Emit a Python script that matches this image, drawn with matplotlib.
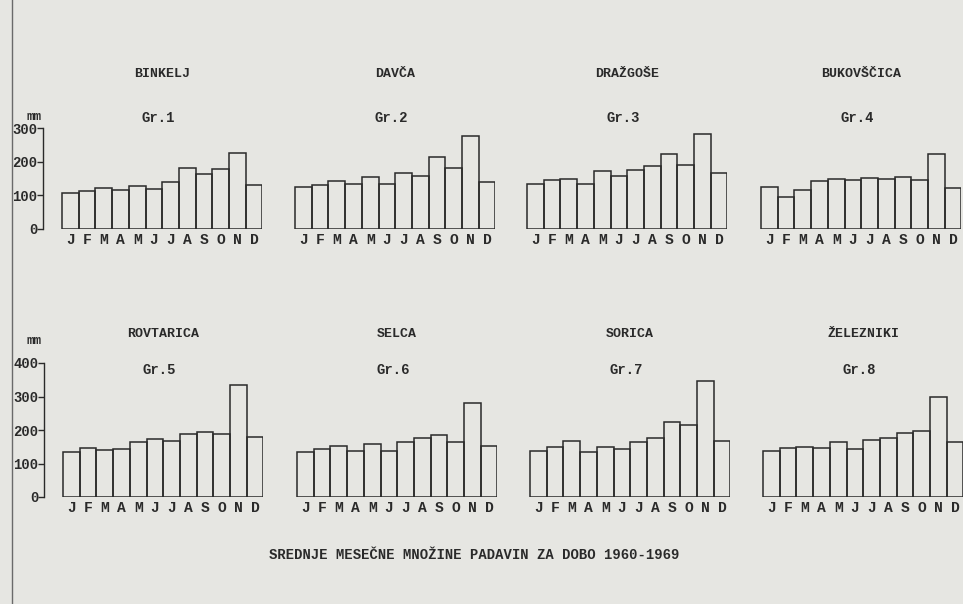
import matplotlib.pyplot as plt
from matplotlib.lines import Line2D

W, H = 963, 604

months = list("JFMAMJJASOND")

stations = ["BINKELJ", "DAVČA", "DRAŽGOŠE", "BUKOVŠČICA",
            "ROVTARICA", "SELCA", "SORICA", "ŽELEZNIKI"]
graphs = ["Gr.1", "Gr.2", "Gr.3", "Gr.4", "Gr.5", "Gr.6", "Gr.7", "Gr.8"]

# mean monthly precipitation, mm
binkelj = [106, 114, 122, 116, 129, 118, 139, 181, 162, 179, 225, 130]
davca = [124, 131, 143, 133, 153, 135, 167, 158, 215, 182, 277, 141]
drazgose = [133, 145, 150, 134, 173, 158, 174, 186, 222, 190, 282, 167]
bukovscica = [125, 95, 116, 143, 150, 145, 152, 148, 153, 145, 224, 123]
rovtarica = [135, 145, 139, 143, 163, 172, 167, 187, 193, 187, 335, 178]
selca = [133, 144, 152, 137, 157, 138, 165, 175, 185, 165, 280, 152]
sorica = [138, 148, 168, 135, 150, 143, 165, 177, 225, 215, 345, 168]
zelezniki = [137, 146, 150, 145, 163, 142, 169, 175, 190, 197, 300, 165]

series = [binkelj, davca, drazgose, bukovscica,
          rovtarica, selca, sorica, zelezniki]

caption = "SREDNJE MESEČNE MNOŽINE PADAVIN ZA DOBO 1960-1969"

bg = "#e6e6e2"
ink = "#2a2a2a"
mono = ["Liberation Mono", "DejaVu Sans Mono"]

fig = plt.figure(figsize=(W / 100, H / 100), dpi=100)
fig.patch.set_facecolor(bg)


def px_rect(x, y_top, w, h):
    return [x / W, 1 - (y_top + h) / H, w / W, h / H]


def ftext(x, y, s, size=10, **kw):
    fig.text(x / W, 1 - y / H, s, ha="center", va="center", fontsize=size,
             color=ink, family=mono, fontweight="bold", **kw)


# row settings: bar starts, y of zero line, y of top, ymax, title rows
rows = [
    dict(starts=[62, 295, 527, 761], y0=229, y1=128, ymax=300,
         name_y=74, gr_y=118, mm_y=117, label_y=240),
    dict(starts=[63, 297, 530, 763], y0=497, y1=363, ymax=400,
         name_y=334, gr_y=370, mm_y=341, label_y=509),
]

bar_w = 16.7
gap = 19  # distance from y axis to first bar

k = 0
for r, row in enumerate(rows):
    for c, start in enumerate(row["starts"]):
        vals = series[k]
        left = start - gap
        width = gap + 12 * bar_w
        ax = fig.add_axes(px_rect(left, row["y1"], width, row["y0"] - row["y1"]))
        ax.set_facecolor("none")
        ax.bar(range(12), vals, width=1.0, facecolor="none",
               edgecolor=ink, linewidth=1.1)
        ax.set_xlim(-0.5 - gap / bar_w, 11.5)
        ax.set_ylim(0, row["ymax"])
        for s in ["top", "right", "bottom"]:
            ax.spines[s].set_visible(False)
        ax.set_xticks(range(12))
        ax.set_xticklabels(months, family=mono, fontweight="bold",
                           fontsize=10.5, color=ink)
        ax.tick_params(axis="x", length=0, pad=3)
        if c == 0:
            ax.spines["left"].set_color(ink)
            ax.spines["left"].set_linewidth(1.0)
            ax.set_yticks(range(0, row["ymax"] + 1, 100))
            ax.set_yticklabels([str(v) for v in range(0, row["ymax"] + 1, 100)],
                               family=mono, fontweight="bold", fontsize=10,
                               color=ink)
            ax.tick_params(axis="y", length=4, width=1.0, color=ink, pad=0)
            ftext(34, row["mm_y"], "mm", size=9)
        else:
            ax.spines["left"].set_visible(False)
            ax.set_yticks([])
        cx = start + 6 * bar_w
        ftext(cx, row["name_y"], stations[k], size=9.5)
        ftext(cx - 4, row["gr_y"], graphs[k], size=10)
        k += 1

ftext(474, 555, caption, size=10)

# page border on the left
fig.add_artist(Line2D([12 / W, 12 / W], [0, 1], color="#6a6a6a", linewidth=1.0))

fig.savefig("out.png", dpi=100, facecolor=bg)
